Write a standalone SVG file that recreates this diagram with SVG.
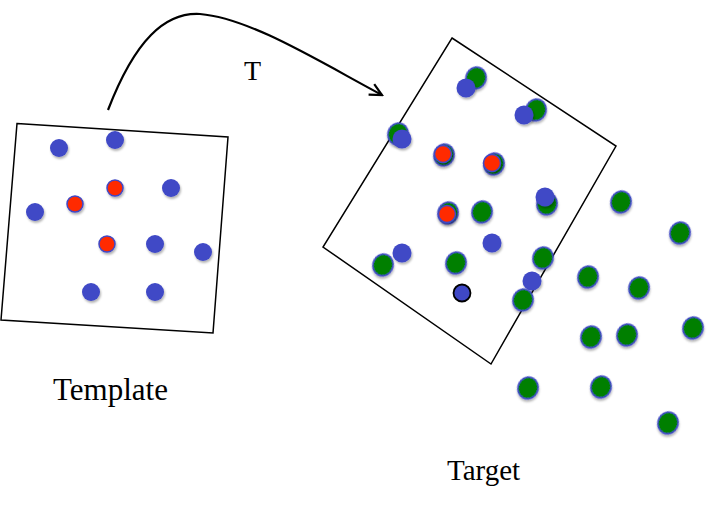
<svg xmlns="http://www.w3.org/2000/svg" width="727" height="509" viewBox="0 0 727 509">
<defs>
<filter id="sh" x="-50%" y="-50%" width="200%" height="200%">
<feDropShadow dx="1" dy="2" stdDeviation="1.2" flood-color="#000" flood-opacity="0.3"/>
</filter>
<marker id="arr" markerWidth="16" markerHeight="16" refX="14" refY="8" orient="auto" markerUnits="userSpaceOnUse">
<path d="M2,2 L14,8 L2,14" fill="none" stroke="#000" stroke-width="2.2"/>
</marker>
</defs>
<style>
.box{fill:none;stroke:#000;stroke-width:1.5}
.b{fill:#3f48c6;filter:url(#sh)}
.r{fill:#ff2a00;stroke:#3f48c6;stroke-width:1.5;filter:url(#sh)}
.g{fill:#007f00;stroke:#3f48c6;stroke-width:1.5;filter:url(#sh)}
.lbl{font-family:"Liberation Serif","Times New Roman",serif;fill:#000}
</style>
<g id="connectors">
<path d="M108,110 C135,40 165,12 200,14 C250,18 320,62 382,95" fill="none" stroke="#000" stroke-width="2.2" marker-end="url(#arr)"/>
</g>
<text class="lbl" x="244" y="80" font-size="28">T</text>
<g id="template">
<polygon class="box" points="17,123.5 228,137 213,333 1,320"/>
<circle class="b" cx="59" cy="148" r="9"/>
<circle class="b" cx="115" cy="140" r="9"/>
<circle class="r" cx="115" cy="188" r="8"/>
<circle class="b" cx="171" cy="188" r="9"/>
<circle class="r" cx="75" cy="204" r="8"/>
<circle class="b" cx="35" cy="212" r="9"/>
<circle class="r" cx="107" cy="244" r="8"/>
<circle class="b" cx="155" cy="244" r="9"/>
<circle class="b" cx="203" cy="252" r="9"/>
<circle class="b" cx="91" cy="292" r="9"/>
<circle class="b" cx="155" cy="292" r="9"/>
<text class="lbl" x="53" y="400" font-size="31">Template</text>
</g>
<g id="target">
<polygon class="box" points="452,38 616,146 491,364 323,247"/>
<ellipse class="g" cx="476" cy="78" rx="10" ry="11" transform="rotate(20 476 78)"/>
<circle class="b" cx="466" cy="88" r="9.5"/>
<ellipse class="g" cx="536" cy="110" rx="10" ry="11" transform="rotate(20 536 110)"/>
<circle class="b" cx="524" cy="115" r="9.5"/>
<ellipse class="g" cx="398" cy="134" rx="10" ry="11" transform="rotate(20 398 134)"/>
<circle class="b" cx="402" cy="139" r="9.5"/>
<ellipse class="g" cx="444" cy="155" rx="10" ry="11" transform="rotate(20 444 155)"/>
<circle class="r" cx="443" cy="154" r="8.5"/>
<ellipse class="g" cx="494" cy="164" rx="10" ry="11" transform="rotate(20 494 164)"/>
<circle class="r" cx="492" cy="163" r="8.5"/>
<ellipse class="g" cx="547" cy="204" rx="10" ry="11" transform="rotate(20 547 204)"/>
<circle class="b" cx="545" cy="197" r="9.5"/>
<ellipse class="g" cx="448" cy="213" rx="10" ry="11" transform="rotate(20 448 213)"/>
<circle class="r" cx="447" cy="214" r="8.5"/>
<ellipse class="g" cx="482" cy="212" rx="10" ry="11" transform="rotate(20 482 212)"/>
<circle class="b" cx="492" cy="243" r="9.5"/>
<ellipse class="g" cx="383" cy="265" rx="10" ry="11" transform="rotate(20 383 265)"/>
<circle class="b" cx="402" cy="253" r="9.5"/>
<ellipse class="g" cx="456" cy="263" rx="10" ry="11" transform="rotate(20 456 263)"/>
<circle cx="462" cy="293" r="8.5" fill="#3f48c6" stroke="#000" stroke-width="1.8"/>
<ellipse class="g" cx="543" cy="258" rx="10" ry="11" transform="rotate(20 543 258)"/>
<circle class="b" cx="532" cy="281" r="9.5"/>
<ellipse class="g" cx="523" cy="300" rx="10" ry="11" transform="rotate(20 523 300)"/>
<ellipse class="g" cx="621" cy="202" rx="10" ry="11" transform="rotate(20 621 202)"/>
<ellipse class="g" cx="680" cy="233" rx="10" ry="11" transform="rotate(20 680 233)"/>
<ellipse class="g" cx="588" cy="277" rx="10" ry="11" transform="rotate(20 588 277)"/>
<ellipse class="g" cx="639" cy="288" rx="10" ry="11" transform="rotate(20 639 288)"/>
<ellipse class="g" cx="591" cy="337" rx="10" ry="11" transform="rotate(20 591 337)"/>
<ellipse class="g" cx="627" cy="335" rx="10" ry="11" transform="rotate(20 627 335)"/>
<ellipse class="g" cx="693" cy="328" rx="10" ry="11" transform="rotate(20 693 328)"/>
<ellipse class="g" cx="528" cy="388" rx="10" ry="11" transform="rotate(20 528 388)"/>
<ellipse class="g" cx="601" cy="387" rx="10" ry="11" transform="rotate(20 601 387)"/>
<ellipse class="g" cx="668" cy="423" rx="10" ry="11" transform="rotate(20 668 423)"/>
<text class="lbl" x="447" y="480" font-size="29">Target</text>
</g>
</svg>
